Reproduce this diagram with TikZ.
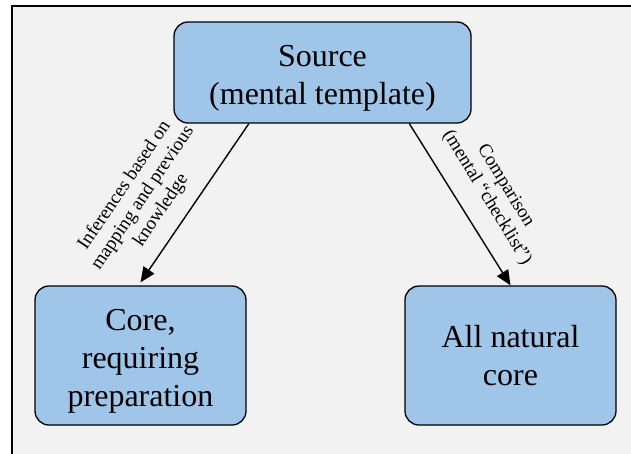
\documentclass[tikz,border=0pt]{standalone}
\usepackage{fontspec}
\setmainfont{Liberation Serif}
\usetikzlibrary{arrows.meta}
\definecolor{bgfill}{HTML}{F2F2F2}
\definecolor{boxfill}{HTML}{9FC5E8}
\begin{document}
\begin{tikzpicture}[x=1pt,y=1pt,
  boxnode/.style={draw=black,line width=1.3pt,fill=boxfill,rounded corners=14pt,
    align=center,inner sep=0pt,font=\fontsize{32}{38}\selectfont},
  lbl/.style={align=center,inner sep=0pt,font=\fontsize{19}{22}\selectfont},
  arr/.style={line width=1.4pt,-{Triangle[length=15pt,width=13pt]}}]
\useasboundingbox (0,0) rectangle (631,-453);
\fill[white] (0,0) rectangle (631,-453);
\path[fill=bgfill,draw=black,line width=2pt] (11.5,-5.5) rectangle (640,-462);
\node[boxnode,minimum width=297pt,minimum height=101pt] (src) at (322.5,-72.5) {\rule{0pt}{33pt}Source\\(mental template)};
\node[boxnode,minimum width=211pt,minimum height=139pt] (core) at (140.5,-355.5) {\rule{0pt}{32pt}Core,\\requiring\\preparation};
\node[boxnode,minimum width=211pt,minimum height=139pt] (nat) at (510.5,-355.5) {All natural\\core};
\draw[arr] ([xshift=75.5pt]src.south west) -- ([yshift=3pt]core.north);
\draw[arr] ([xshift=236pt]src.south west) -- (nat.north);
\node[lbl,rotate=56] (lblinf) at (143,-198) {Inferences based on\\mapping and previous\\knowledge};
\node[lbl,rotate=-58.5] (lblcmp) at (496,-192) {Comparison\\(mental “checklist”)};
\end{tikzpicture}
\end{document}
